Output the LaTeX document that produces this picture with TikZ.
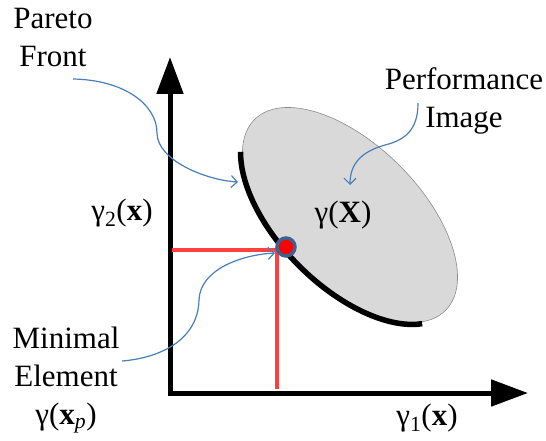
\documentclass[tikz,border=0pt]{standalone}
\usepackage{fontspec}
\setmainfont{Liberation Serif}
\usepackage{tikz}
\usetikzlibrary{arrows.meta, calc}
\definecolor{ImageGray}{HTML}{D9D9D9}
\definecolor{EdgeGray}{HTML}{8C8C8C}
\definecolor{CallBlue}{HTML}{4A7EBB}
\definecolor{RingBlue}{HTML}{3E6190}
\definecolor{LineRed}{HTML}{FF4040}

\begin{document}
\begin{tikzpicture}[x=1pt, y=-1pt,
        lbl/.style={font=\fontsize{31}{38}\selectfont, align=center, inner sep=0pt},
        axis/.style={line width=5pt, line join=miter,
                    {Triangle[length=37pt, width=26pt]}-{Triangle[length=37pt, width=26pt]}},
        callout/.style={draw=CallBlue, line width=1.2pt,
                    -{Straight Barb[length=6pt, width=12pt]}},
        proj/.style={draw=LineRed, line width=4pt}]
        \useasboundingbox (0,0) rectangle (546,441);

        % Axes
        \coordinate (origin) at (170,393);
        \coordinate (ytip)   at (170,57);
        \coordinate (xtip)   at (528,393);
        \draw[axis] (ytip) -- (origin) -- (xtip);

        % Performance image and Pareto front
        \draw[fill=ImageGray, draw=EdgeGray, line width=0.6pt]
            (350,215) ellipse [x radius=135pt, y radius=70pt, rotate=-45];
        \draw[line width=5.5pt] plot[domain=207:339, smooth, samples=40, variable=\t]
            ({350+0.707*(137*cos(\t)+72*sin(\t))}, {215+0.707*(137*cos(\t)-72*sin(\t))});

        % Minimal element with its projections
        \coordinate (yfoot) at (172,250);
        \coordinate (corner) at (277,250);
        \coordinate (xfoot) at (277,389);
        \draw[proj] (yfoot) -- (corner) -- (xfoot);
        \node[circle, fill=red, draw=RingBlue, line width=3.5pt,
              minimum size=18pt, inner sep=0pt] (pmin) at (286,247) {};

        % Labels
        \node[lbl, anchor=north] (pareto) at (53,8)   {Pareto\\Front};
        \node[lbl, anchor=north] (perf)   at (464,67) {Performance\\Image};
        \node[lbl, anchor=north] (minel)  at (66,327)
            {Minimal\\Element\\γ(\textbf{x}\textsubscript{\textit{p}})};
        \node[lbl] (gX) at (343,215) {γ(\textbf{X})};
        \node[lbl] (g2) at (122,213) {γ\textsubscript{2}(\textbf{x})};
        \node[lbl] (g1) at (427,418) {γ\textsubscript{1}(\textbf{x})};

        % Callouts
        \coordinate (pfA) at (73,79);
        \coordinate (pfB) at (238,182);
        \coordinate (piA) at (418,103);
        \coordinate (piB) at (350,185);
        \coordinate (meA) at (122,361);
        \coordinate (meB) at (275,253);
        \draw[callout] (pfA) .. controls (125,80) and (157,105) .. (157,133)
                             .. controls (157,160) and (205,180) .. (pfB);
        \draw[callout] (piA) .. controls (418,130) and (405,140) .. (385,145)
                             .. controls (360,152) and (350,165) .. (piB);
        \draw[callout] (meA) .. controls (160,358) and (198,340) .. (199,300)
                             .. controls (200,270) and (240,255) .. (meB);
\end{tikzpicture}
\end{document}
